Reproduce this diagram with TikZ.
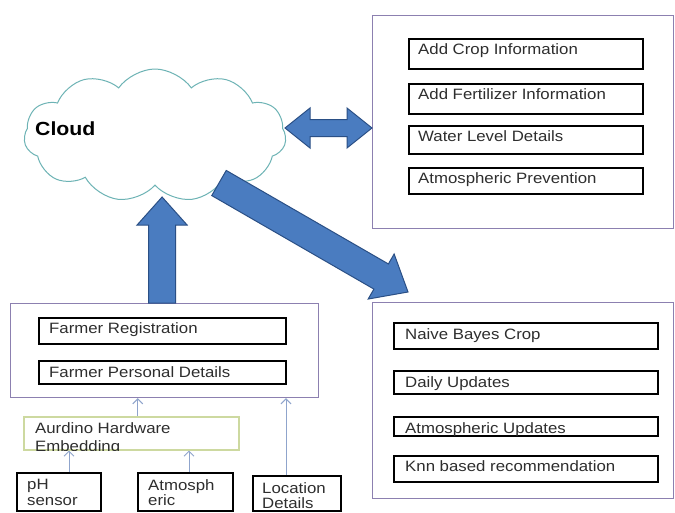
\documentclass[tikz,border=0pt]{standalone}
\usepackage{fontspec}
\setmainfont{Liberation Sans}[FakeStretch=1.12]
\usetikzlibrary{calc,shapes.symbols,arrows.meta}
\definecolor{frame}{HTML}{8C80B0}
\definecolor{blkfill}{HTML}{4A7CC0}
\definecolor{blkline}{HTML}{2A4F85}
\definecolor{thinc}{HTML}{8FA4CC}
\definecolor{cloudline}{HTML}{6DB3B5}
\definecolor{greenline}{HTML}{CDD9A0}
\definecolor{txtc}{HTML}{2E2E2E}
% block arrow: #1 start, #2 tip, #3 shaft half width, #4 head half width, #5 head length
\newcommand\blockarr[5]{%
  \coordinate (ba-h) at ($(#2)!#5!(#1)$);
  \draw[blk] ($(#1)!#3!90:(#2)$) -- ($(ba-h)!#3!90:(#2)$) -- ($(ba-h)!#4!90:(#2)$)
    -- (#2) -- ($(ba-h)!#4!-90:(#2)$) -- ($(ba-h)!#3!-90:(#2)$) -- ($(#1)!#3!-90:(#2)$) -- cycle;}
% inner box: #1 name, #2 x, #3 y, #4 w, #5 h, #6 dx, #7 dy, #8 text
\newcommand\ibx[8]{%
  \node[ibox, minimum width=#4pt, minimum height=#5pt] (#1) at (#2,#3) {};
  \node[txt] (#1-t) at ([xshift=#6pt, yshift=-#7pt]#1.north west) {#8};}
\begin{document}
\begin{tikzpicture}[x=1pt,y=-1pt,
  outer/.style={draw=frame, line width=1.2pt, inner sep=0, anchor=north west},
  ibox/.style={draw=black, line width=2pt, inner sep=0, anchor=north west},
  txt/.style={font=\fontsize{15}{15.5}\selectfont, text=txtc, inner sep=0, anchor=north west, align=left},
  thinarr/.style={draw=thinc, line width=1pt, -{Straight Barb[length=5pt,width=10pt]}},
  blk/.style={fill=blkfill, draw=blkline, line width=1pt, line join=miter}]
\useasboundingbox (0,0) rectangle (675,512);
\fill[white] (0,0) rectangle (675,512);

% cloud
\node[cloud, cloud puffs=11, cloud puff arc=110, aspect=1.95, draw=cloudline, line width=1pt,
      fill=white, minimum width=262pt, minimum height=133pt, inner sep=0] (cloud) at (155,135.5) {};
\node[font=\bfseries\fontsize{19}{19}\selectfont, anchor=west, inner sep=0] (cloudtxt) at (35,128.5) {Cloud};

% top right group
\node[outer, minimum width=301pt, minimum height=213pt] (topbox) at (372,15) {};
\ibx{t1}{408}{38}{234}{30}{10}{5}{Add Crop Information}
\ibx{t2}{408}{83}{234}{30}{10}{5}{Add Fertilizer Information}
\ibx{t3}{408}{125}{234}{28}{10}{5}{Water Level Details}
\ibx{t4}{408}{167}{234}{26}{10}{5}{Atmospheric Prevention}

% bottom right group
\node[outer, minimum width=301pt, minimum height=196pt] (rbox) at (372,302) {};
\ibx{r1}{393}{322}{264}{26}{12}{6}{Naive Bayes Crop}
\ibx{r2}{393}{370}{264}{23}{12}{6}{Daily Updates}
\ibx{r3}{393}{416}{264}{19}{12}{6}{Atmospheric Updates}
\ibx{r4}{393}{455}{264}{26}{12}{5}{Knn based recommendation}

% bottom left group
\node[outer, minimum width=308pt, minimum height=94pt] (lbox) at (10,303) {};
\ibx{l1}{38}{317}{247}{26}{11}{5}{Farmer Registration}
\ibx{l2}{38}{360}{247}{23}{11}{6}{Farmer Personal Details}

% hardware box
\node[draw=greenline, line width=1.5pt, inner sep=0, anchor=north west,
      minimum width=215pt, minimum height=33pt] (gbox) at (23,416) {};
\begin{scope}
  \clip (gbox.south west) rectangle (gbox.north east);
  \node[txt, font=\fontsize{15}{18}\selectfont] (gbox-t) at ([xshift=12pt, yshift=-6pt]gbox.north west) {Aurdino Hardware\\Embedding};
\end{scope}

% sensors
\ibx{ph}{16}{472}{84}{38}{11}{7}{pH\\sensor}
\ibx{atm}{137}{472}{95}{38}{11}{7}{Atmosph\\eric}
\ibx{loc}{252}{475}{88}{35}{10}{7}{Location\\Details}

% thin connectors
\draw[thinarr] ([xshift=10pt]ph.north) -- ([xshift=10pt]ph.north |- gbox.south);
\draw[thinarr] ([xshift=3.5pt]atm.north) -- ([xshift=3.5pt]atm.north |- gbox.south);
\draw[thinarr] ([xshift=6.5pt]gbox.north) -- ([xshift=6.5pt]gbox.north |- lbox.south);
\draw[thinarr] ([xshift=-11pt]loc.north) -- ([xshift=-11pt]loc.north |- lbox.south);

% block arrows
\coordinate (upS) at ([xshift=-2.5pt]lbox.north);
\coordinate (upT) at ($(upS)+(0,-106)$);
\blockarr{upS}{upT}{13.5pt}{25pt}{28pt}

\coordinate (dS) at (219,183);
\coordinate (dT) at ([xshift=36pt, yshift=10pt]rbox.north west);
\blockarr{dS}{dT}{14.5pt}{26pt}{31pt}

\coordinate (dL) at (285,128);
\coordinate (dR) at (topbox.west |- dL);
\coordinate (hL) at ($(dL)!25pt!(dR)$);
\coordinate (hR) at ($(dR)!25pt!(dL)$);
\draw[blk] (dL) -- ($(hL)!20pt!90:(dR)$) -- ($(hL)!8.5pt!90:(dR)$) -- ($(hR)!8.5pt!-90:(dL)$)
  -- ($(hR)!20pt!-90:(dL)$) -- (dR) -- ($(hR)!20pt!90:(dL)$) -- ($(hR)!8.5pt!90:(dL)$)
  -- ($(hL)!8.5pt!-90:(dR)$) -- ($(hL)!20pt!-90:(dR)$) -- cycle;
\end{tikzpicture}
\end{document}
